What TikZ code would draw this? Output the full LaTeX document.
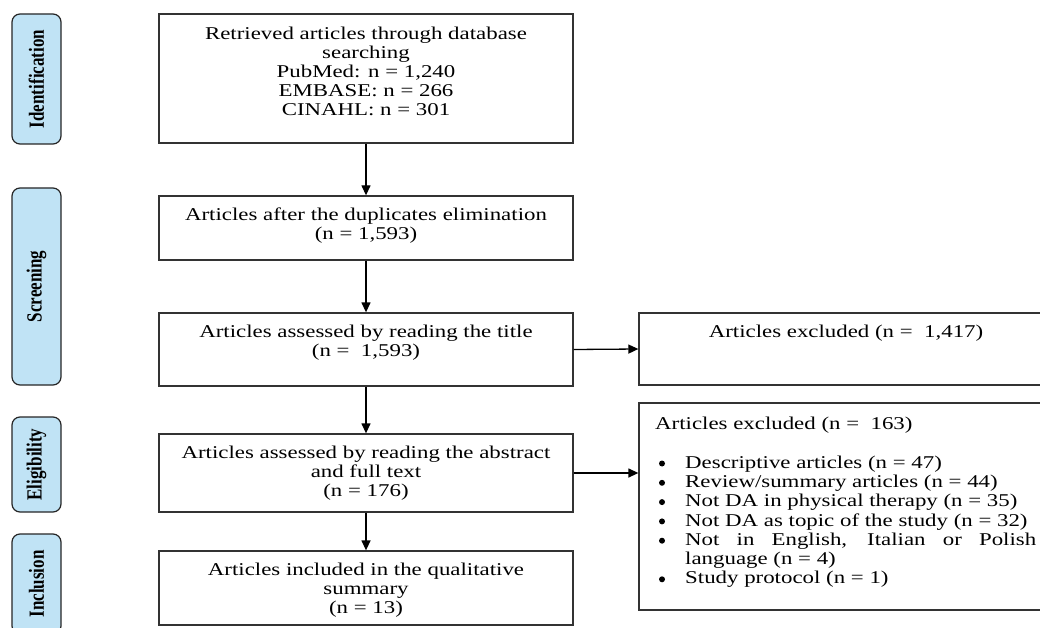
\documentclass[tikz,border=0pt]{standalone}
\usepackage{fontspec}
\setmainfont{Liberation Serif}[FakeStretch=1.27]
\newfontfamily\lblfont{Liberation Serif}
\usetikzlibrary{arrows.meta}
\definecolor{lblfill}{RGB}{192,227,245}
\definecolor{boxline}{RGB}{51,51,51}
\tikzset{
  x=1pt, y=-1pt,
  mainbox/.style={draw=boxline, line width=1.3pt, rectangle, inner sep=0pt, minimum width=414pt},
  sidebox/.style={draw=boxline, line width=1.3pt, rectangle, inner sep=0pt, minimum width=411pt},
  txt/.style={align=center, inner sep=0pt, font=\fontsize{18}{19}\selectfont},
  listtxt/.style={align=left, inner sep=0pt, font=\fontsize{18}{19.3}\selectfont},
  stage/.style={draw=black!85, line width=1.2pt, fill=lblfill, rounded corners=8pt, inner sep=0pt, minimum width=49pt},
  flow/.style={draw=black, line width=1.3pt, -{Triangle[length=10pt,width=9pt]}},
  dot/.style={fill=black, circle, inner sep=0pt, minimum size=6pt}
}
\newcommand{\stagetext}[1]{\rotatebox{90}{\scalebox{1}[1.27]{\lblfont\fontsize{17}{17}\selectfont\bfseries #1}}}
\begin{document}
\begin{tikzpicture}
\clip (0,0) rectangle (1040,628);
\fill[white] (0,0) rectangle (1040,628);
% stage labels
\node[stage, minimum height=130pt] (sid) at (36.5,79) {\stagetext{Identification}};
\node[stage, minimum height=197pt] (ssc) at (36.5,286.5) {\stagetext{Screening}};
\node[stage, minimum height=95pt] (sel) at (36.5,464.5) {\stagetext{Eligibility}};
\node[stage, minimum height=100pt] (sin) at (36.5,584) {\stagetext{Inclusion}};
% main boxes
\node[mainbox, minimum height=129pt] (b1) at (366,78.5) {};
\node[txt] (b1t) at (366,71.5) {Retrieved articles through database\\searching\\PubMed: n = 1,240\\EMBASE: n = 266\\CINAHL: n = 301};
\node[mainbox, minimum height=64pt] (b2) at (366,228) {};
\node[txt] (b2t) at (366,226) {Articles after the duplicates elimination\\(n = 1,593)};
\node[mainbox, minimum height=73pt] (b3) at (366,349.5) {};
\node[txt] (b3t) at (366,343) {Articles assessed by reading the title\\(n =\ \ 1,593)};
\node[mainbox, minimum height=78pt] (b4) at (366,473) {};
\node[txt] (b4t) at (366,473) {Articles assessed by reading the abstract\\and full text\\(n = 176)};
\node[mainbox, minimum height=74pt] (b5) at (366,588) {};
\node[txt] (b5t) at (366,590) {Articles included in the qualitative\\summary\\(n = 13)};
% side boxes
\node[sidebox, minimum height=72pt] (r1) at (844.5,349) {};
\node[txt] (r1t) at (846,333) {Articles excluded (n =\ \ 1,417)};
\node[sidebox, minimum height=207pt] (r2) at (844.5,506.5) {};
\node[txt, anchor=west] (r2h) at (655,425) {Articles excluded (n =\ \ 163)};
\node[listtxt, anchor=north west] (r2l) at (685,455.5) {%
Descriptive articles (n = 47)\\
Review/summary articles (n = 44)\\
Not DA in physical therapy (n = 35)\\
Not DA as topic of the study (n = 32)\\
\makebox[351pt][s]{Not in English, Italian or Polish}\\
language (n = 4)\\
Study protocol (n = 1)};
\foreach \yy [count=\k] in {463.5,482.8,502.1,521.4,540.7,579.3}
  \node[dot] (d\k) at (662,\yy) {};
% connectors
\draw[flow] (b1) -- (b2);
\draw[flow] (b2) -- (b3);
\draw[flow] (b3) -- (b4);
\draw[flow] (b4) -- (b5);
\draw[flow] (b3.east) -- (r1.west);
\draw[flow] (b4.east) -- (b4.east -| r2.west);
\end{tikzpicture}
\end{document}
